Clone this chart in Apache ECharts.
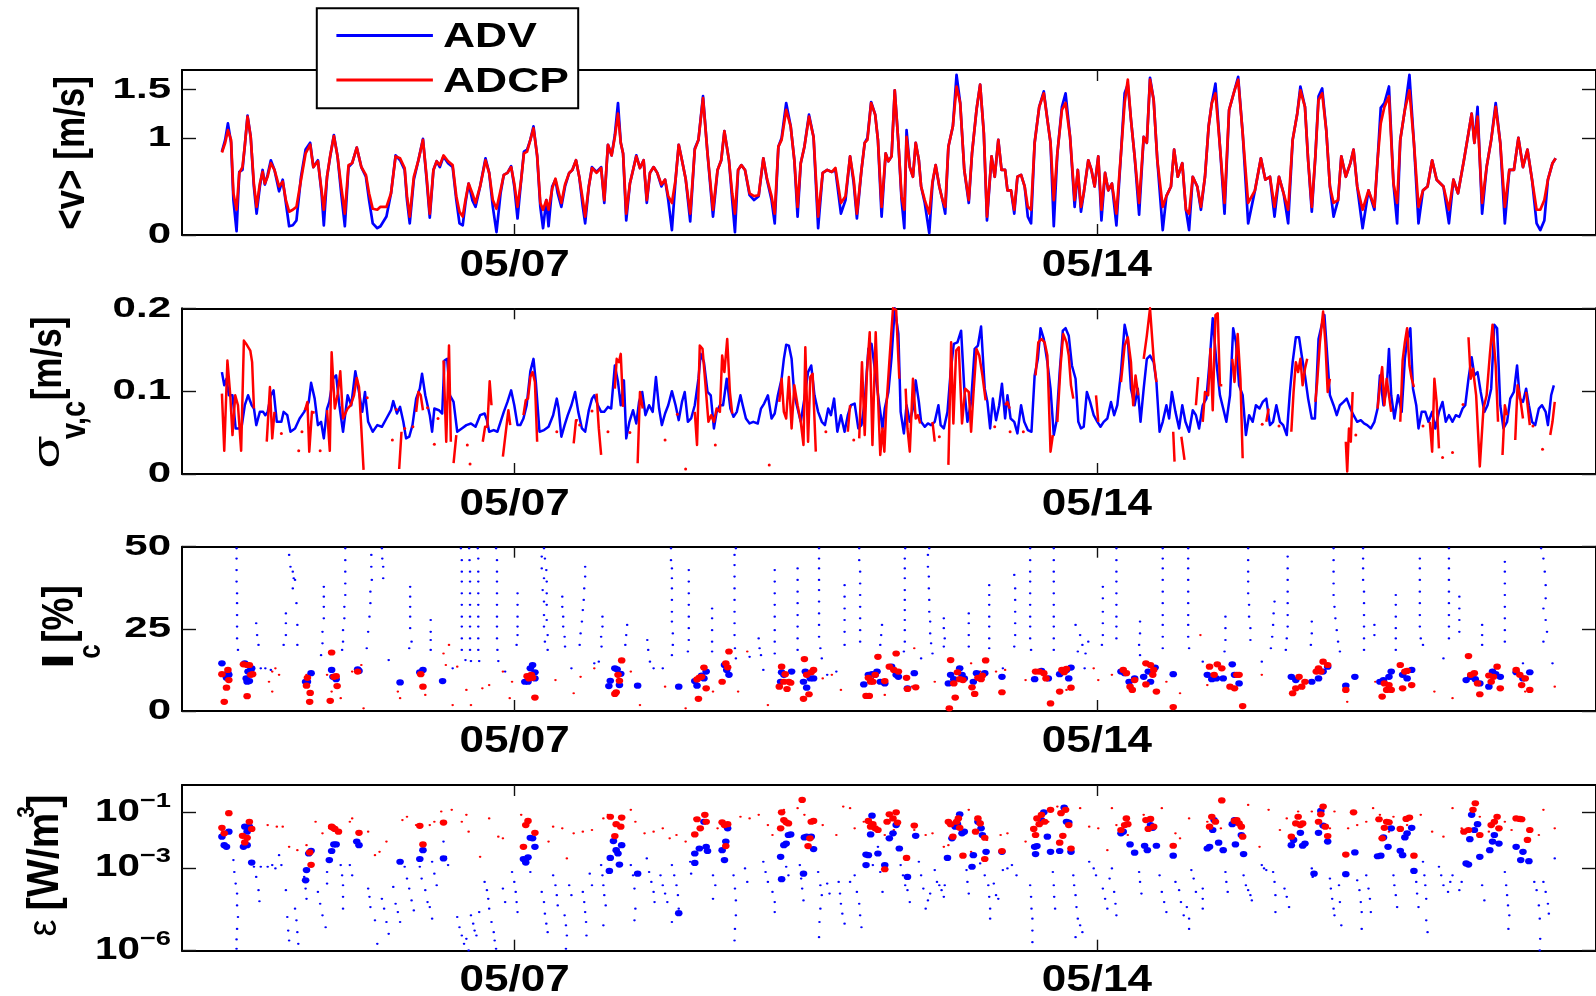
<!DOCTYPE html>
<html>
<head>
<meta charset="utf-8">
<script src="https://cdn.jsdelivr.net/npm/echarts@6/dist/echarts.min.js"></script>
<style>
  html, body { margin: 0; padding: 0; background: #fff; }
  #chart { width: 1596px; height: 996px; }
</style>
</head>
<body>
<div id="chart"></div>
<script>
// Time is in days of May (fractional). Tick marks on the time axis.
const dayTicks = [7, 14];
const dayTickText = ['05/07', '05/14'];

// ---------- Panel 1: depth-mean speed <v> [m/s] ----------
const speedDay = [
  3.480,3.519,3.552,3.590,3.618,3.656,3.689,3.727,3.754,3.788,
  3.826,3.864,3.897,3.936,3.969,3.996,4.029,4.068,4.112,4.167,
  4.211,4.249,4.288,4.332,4.376,4.431,4.486,4.541,4.579,4.634,
  4.678,4.705,4.744,4.782,4.826,4.870,4.914,4.958,5.002,5.046,
  5.101,5.156,5.211,5.249,5.293,5.348,5.386,5.458,5.513,5.568,
  5.622,5.677,5.705,5.738,5.787,5.842,5.897,5.941,5.979,6.023,
  6.062,6.100,6.144,6.199,6.254,6.298,6.336,6.375,6.408,6.446,
  6.490,6.529,6.584,6.649,6.693,6.737,6.781,6.830,6.869,6.913,
  6.957,6.995,7.034,7.078,7.111,7.149,7.188,7.226,7.270,7.308,
  7.341,7.380,7.407,7.451,7.490,7.517,7.561,7.605,7.655,7.693,
  7.737,7.776,7.819,7.847,7.891,7.929,7.984,8.039,8.077,8.121,
  8.165,8.204,8.242,8.275,8.303,8.341,8.385,8.423,8.462,8.506,
  8.550,8.588,8.626,8.670,8.714,8.764,8.808,8.846,8.890,8.934,
  8.972,9.011,9.055,9.110,9.165,9.209,9.264,9.318,9.384,9.439,
  9.483,9.521,9.576,9.615,9.648,9.686,9.725,9.769,9.824,9.878,
  9.933,9.989,10.033,10.088,10.126,10.170,10.209,10.264,10.318,10.362,
  10.401,10.439,10.483,10.538,10.593,10.648,10.703,10.758,10.813,10.856,
  10.922,10.977,11.032,11.076,11.114,11.169,11.208,11.241,11.285,11.334,
  11.367,11.411,11.460,11.493,11.531,11.569,11.613,11.651,11.684,11.711,
  11.750,11.788,11.821,11.859,11.886,11.930,11.984,12.023,12.061,12.105,
  12.143,12.176,12.214,12.268,12.312,12.356,12.405,12.459,12.498,12.552,
  12.596,12.640,12.678,12.733,12.771,12.814,12.853,12.896,12.924,12.967,
  13.006,13.044,13.088,13.131,13.169,13.208,13.251,13.306,13.361,13.404,
  13.442,13.481,13.524,13.579,13.623,13.677,13.732,13.770,13.808,13.841,
  13.896,13.934,13.972,14.016,14.054,14.098,14.136,14.180,14.234,14.289,
  14.333,14.371,14.409,14.453,14.507,14.562,14.600,14.638,14.682,14.726,
  14.791,14.835,14.890,14.928,14.972,15.026,15.070,15.108,15.152,15.206,
  15.250,15.299,15.343,15.381,15.425,15.479,15.534,15.589,15.654,15.698,
  15.752,15.818,15.900,15.971,16.025,16.080,16.135,16.189,16.244,16.299,
  16.353,16.408,16.446,16.501,16.539,16.583,16.626,16.664,16.708,16.757,
  16.801,16.845,16.899,16.938,16.992,17.047,17.085,17.129,17.194,17.265,
  17.336,17.374,17.412,17.456,17.511,17.565,17.609,17.647,17.702,17.757,
  17.811,17.866,17.920,17.975,18.030,18.084,18.166,18.232,18.286,18.341,
  18.412,18.467,18.505,18.538,18.576,18.631,18.685,18.740,18.794,18.849,
  18.904,18.958,19.013,19.067,19.122,19.176,19.231,19.286,19.330,19.379,
  19.422,19.477,19.515
];
const speedAdv = [
  .86,.98,1.15,.95,.36,.04,.65,.67,.91,1.23,
  1.01,.50,.22,.50,.67,.52,.62,.77,.67,.45,
  .57,.33,.09,.10,.15,.60,.88,.95,.70,.77,
  .43,.10,.60,.81,1.03,.81,.43,.09,.70,.74,
  .90,.70,.60,.36,.12,.07,.09,.19,.43,.82,
  .77,.67,.36,.12,.57,.77,.99,.57,.18,.67,
  .76,.70,.81,.74,.70,.36,.12,.10,.33,.53,
  .36,.29,.50,.79,.64,.29,.03,.43,.62,.64,
  .71,.50,.17,.57,.86,.88,.98,1.12,.81,.29,
  .07,.36,.09,.50,.57,.43,.29,.50,.64,.67,
  .77,.60,.29,.12,.50,.70,.65,.70,.33,.93,
  .82,1.03,1.36,.95,.84,.15,.53,.67,.82,.69,
  .77,.33,.64,.70,.64,.50,.57,.36,.05,.57,
  .93,.77,.58,.14,.89,.98,1.43,.84,.19,.67,
  .77,1.07,.77,.36,.03,.67,.72,.67,.41,.36,
  .40,.79,.57,.36,.12,.91,1.00,1.36,1.12,.77,
  .19,.74,.91,1.24,1.01,.07,.64,.67,.65,.67,
  .22,.36,.81,.53,.17,.67,.95,1.00,1.37,1.24,
  .98,.19,.84,.76,.81,1.49,.95,.36,.07,1.08,
  .70,.60,.95,.77,.50,.33,.02,.53,.72,.50,
  .36,.22,.91,1.12,1.65,1.36,.67,.33,.84,1.29,
  1.55,1.05,.15,.81,.60,.98,.67,.67,.46,.46,
  .22,.60,.62,.50,.19,.12,.95,1.32,1.48,1.19,
  .95,.09,.84,1.32,1.46,1.01,.29,.67,.24,.43,
  .77,.67,.50,.81,.15,.64,.46,.53,.10,.84,
  1.46,1.55,1.19,.81,.21,1.01,.95,1.62,1.39,.77,
  .05,.40,.50,.88,.60,.74,.26,.05,.60,.50,
  .26,.60,1.12,1.36,1.56,.91,.22,1.29,1.49,1.63,
  1.05,.12,.46,.79,.57,.60,.19,.60,.43,.12,
  .98,1.25,1.53,1.32,.77,.24,.81,1.43,1.51,1.08,
  .50,.19,.36,.81,.60,.74,.88,.50,.07,.46,
  .26,.77,1.31,1.36,1.53,.53,.12,.98,1.29,1.65,
  .95,.12,.46,.50,.77,.57,.50,.12,.57,.43,
  .77,1.05,1.25,.95,1.32,.22,.70,.98,1.36,.95,
  .12,.67,.67,1.00,.70,.88,.57,.12,.05,.15,
  .57,.74,.79
];
const speedAdcp = [
  .85,.95,1.08,.98,.43,.26,.64,.70,.91,1.22,
  1.01,.53,.29,.53,.65,.53,.60,.74,.67,.50,
  .55,.36,.24,.26,.29,.57,.84,.93,.70,.76,
  .46,.26,.60,.82,1.02,.81,.50,.22,.72,.74,
  .90,.70,.62,.43,.27,.26,.29,.29,.43,.81,
  .79,.69,.40,.19,.60,.77,.98,.60,.22,.67,
  .76,.72,.82,.76,.72,.40,.24,.19,.36,.53,
  .43,.33,.50,.77,.64,.36,.27,.46,.62,.64,
  .70,.53,.29,.57,.84,.86,.98,1.10,.82,.33,
  .26,.36,.26,.48,.58,.48,.33,.52,.64,.67,
  .77,.60,.36,.19,.50,.69,.64,.69,.36,.93,
  .82,1.01,1.25,.95,.84,.22,.53,.67,.81,.69,
  .77,.36,.64,.70,.64,.52,.57,.40,.33,.57,
  .93,.77,.58,.22,.88,.98,1.41,.84,.26,.67,
  .77,1.07,.77,.43,.22,.67,.72,.67,.43,.40,
  .41,.79,.58,.40,.22,.91,.98,1.29,1.12,.77,
  .29,.74,.91,1.22,1.01,.19,.64,.67,.65,.69,
  .33,.40,.81,.57,.22,.67,.95,.98,1.36,1.24,
  .98,.29,.84,.76,.81,1.49,.95,.40,.26,1.01,
  .70,.60,.95,.77,.50,.36,.22,.55,.72,.50,
  .36,.29,.91,1.12,1.53,1.36,.67,.36,.84,1.29,
  1.55,1.05,.19,.81,.60,.98,.67,.67,.46,.46,
  .26,.60,.62,.50,.29,.26,.95,1.32,1.46,1.19,
  .95,.36,.84,1.29,1.36,1.01,.36,.67,.29,.43,
  .77,.67,.50,.81,.26,.64,.46,.53,.22,.84,
  1.36,1.60,1.19,.81,.33,1.01,.95,1.60,1.39,.77,
  .29,.40,.50,.88,.60,.74,.26,.22,.60,.50,
  .29,.60,1.12,1.36,1.46,.91,.33,1.29,1.49,1.60,
  1.05,.33,.46,.79,.57,.60,.29,.60,.43,.26,
  .98,1.25,1.49,1.32,.77,.29,.81,1.39,1.46,1.08,
  .50,.33,.36,.81,.60,.74,.88,.50,.26,.46,
  .29,.77,1.15,1.32,1.43,.53,.33,.98,1.29,1.49,
  .95,.29,.46,.50,.77,.57,.50,.26,.57,.43,
  .77,1.05,1.25,.95,1.22,.33,.70,.98,1.32,.95,
  .29,.67,.67,1.00,.70,.88,.57,.26,.26,.36,
  .57,.74,.79
];

// ---------- Panel 2: velocity standard deviation sigma_v,c [m/s] ----------
const sigmaAdv = [
  [3.480,.123],[3.508,.107],[3.535,.115],[3.563,.095],[3.607,.095],[3.645,.055],[3.684,.055],[3.717,.057],[3.755,.083],[3.794,.095],
  [3.838,.083],[3.865,.079],[3.893,.059],[3.936,.075],[3.975,.075],[4.002,.071],[4.030,.075],[4.068,.095],[4.101,.101],[4.140,.063],
  [4.195,.063],[4.222,.075],[4.266,.071],[4.304,.051],[4.359,.055],[4.414,.067],[4.469,.075],[4.524,.087],[4.552,.110],[4.595,.091],
  [4.634,.059],[4.672,.063],[4.705,.043],[4.744,.079],[4.771,.087],[4.815,.115],[4.853,.119],[4.892,.083],[4.936,.051],[4.991,.095],
  [5.035,.083],[5.084,.124],[5.128,.099],[5.167,.075],[5.200,.099],[5.238,.063],[5.293,.051],[5.348,.059],[5.403,.057],[5.458,.067],
  [5.513,.077],[5.540,.088],[5.584,.073],[5.622,.081],[5.661,.063],[5.694,.043],[5.732,.045],[5.771,.059],[5.815,.091],[5.859,.103],
  [5.886,.121],[5.925,.095],[5.952,.083],[5.979,.071],[6.007,.051],[6.034,.079],[6.089,.077],[6.128,.073],[6.155,.137],[6.188,.139],
  [6.221,.095],[6.265,.087],[6.309,.051],[6.364,.055],[6.419,.059],[6.474,.061],[6.529,.057],[6.584,.071],[6.638,.073],[6.666,.065],
  [6.693,.051],[6.748,.053],[6.792,.051],[6.830,.063],[6.869,.075],[6.913,.087],[6.957,.101],[6.995,.083],[7.034,.059],[7.067,.059],
  [7.105,.067],[7.144,.083],[7.188,.124],[7.226,.139],[7.254,.111],[7.298,.051],[7.353,.053],[7.407,.057],[7.462,.071],[7.506,.091],
  [7.528,.079],[7.561,.045],[7.600,.059],[7.638,.071],[7.682,.083],[7.726,.099],[7.764,.075],[7.808,.055],[7.847,.051],[7.891,.077],
  [7.929,.091],[7.957,.095],[8.000,.083],[8.039,.075],[8.077,.075],[8.121,.081],[8.160,.079],[8.204,.131],[8.242,.111],[8.275,.083],
  [8.313,.113],[8.341,.043],[8.379,.063],[8.423,.077],[8.462,.061],[8.495,.087],[8.533,.099],[8.572,.071],[8.616,.083],[8.659,.075],
  [8.698,.117],[8.736,.079],[8.769,.059],[8.808,.073],[8.846,.083],[8.890,.100],[8.934,.083],[8.972,.065],[9.011,.087],[9.044,.099],
  [9.082,.063],[9.121,.067],[9.165,.083],[9.209,.115],[9.236,.145],[9.275,.135],[9.318,.099],[9.357,.095],[9.395,.055],[9.428,.075],
  [9.467,.083],[9.505,.083],[9.549,.115],[9.593,.079],[9.631,.069],[9.670,.075],[9.714,.095],[9.741,.083],[9.780,.067],[9.824,.061],
  [9.868,.063],[9.922,.061],[9.961,.079],[9.999,.085],[10.044,.095],[10.088,.067],[10.126,.073],[10.164,.095],[10.209,.115],[10.236,.139],
  [10.264,.156],[10.296,.155],[10.329,.139],[10.362,.095],[10.401,.079],[10.439,.063],[10.483,.091],[10.527,.123],[10.565,.131],[10.604,.095],
  [10.648,.075],[10.692,.063],[10.730,.059],[10.769,.079],[10.802,.071],[10.840,.091],[10.879,.051],[10.922,.071],[10.966,.051],[11.005,.071],
  [11.043,.083],[11.087,.085],[11.131,.055],[11.169,.059],[11.208,.087],[11.252,.151],[11.290,.157],[11.334,.123],[11.384,.083],[11.422,.055],
  [11.449,.079],[11.493,.099],[11.531,.141],[11.569,.200],[11.613,.169],[11.640,.075],[11.679,.049],[11.711,.083],[11.750,.063],[11.788,.079],
  [11.821,.113],[11.859,.087],[11.886,.063],[11.930,.057],[11.968,.061],[12.006,.059],[12.050,.063],[12.094,.083],[12.121,.059],[12.159,.055],
  [12.203,.075],[12.241,.123],[12.279,.157],[12.323,.159],[12.367,.173],[12.405,.103],[12.443,.063],[12.487,.087],[12.530,.151],[12.569,.155],
  [12.607,.178],[12.651,.103],[12.683,.087],[12.716,.055],[12.749,.091],[12.787,.065],[12.825,.083],[12.858,.109],[12.896,.067],[12.924,.095],
  [12.962,.067],[13.006,.063],[13.044,.049],[13.088,.083],[13.126,.063],[13.169,.053],[13.213,.051],[13.251,.119],[13.290,.139],[13.322,.176],
  [13.361,.163],[13.404,.135],[13.442,.103],[13.481,.047],[13.513,.063],[13.552,.123],[13.590,.173],[13.623,.176],[13.661,.167],[13.699,.131],
  [13.743,.115],[13.776,.063],[13.808,.055],[13.841,.057],[13.879,.099],[13.918,.087],[13.961,.071],[14.005,.063],[14.043,.057],[14.081,.063],
  [14.125,.067],[14.169,.087],[14.207,.071],[14.245,.083],[14.289,.123],[14.333,.180],[14.371,.163],[14.409,.103],[14.453,.083],[14.491,.103],
  [14.524,.063],[14.562,.103],[14.600,.139],[14.638,.143],[14.682,.135],[14.715,.111],[14.753,.051],[14.791,.063],[14.835,.083],[14.868,.067],
  [14.901,.099],[14.944,.075],[14.988,.055],[15.026,.083],[15.064,.063],[15.108,.051],[15.152,.077],[15.190,.071],[15.228,.055],[15.272,.083],
  [15.316,.091],[15.354,.135],[15.392,.188],[15.436,.135],[15.479,.095],[15.518,.079],[15.556,.063],[15.600,.095],[15.638,.176],[15.671,.159],
  [15.709,.107],[15.752,.095],[15.791,.047],[15.829,.071],[15.873,.063],[15.911,.083],[15.955,.079],[15.993,.087],[16.036,.091],[16.080,.059],
  [16.118,.063],[16.157,.083],[16.200,.063],[16.239,.059],[16.282,.047],[16.320,.099],[16.353,.135],[16.391,.165],[16.430,.165],[16.462,.143],
  [16.501,.119],[16.539,.091],[16.583,.067],[16.621,.067],[16.664,.163],[16.703,.180],[16.735,.192],[16.774,.135],[16.801,.095],[16.845,.083],
  [16.883,.071],[16.921,.083],[16.965,.087],[17.003,.091],[17.047,.079],[17.085,.071],[17.129,.063],[17.172,.065],[17.211,.061],[17.249,.059],
  [17.293,.055],[17.336,.063],[17.374,.079],[17.402,.119],[17.445,.083],[17.483,.103],[17.511,.151],[17.538,.095],[17.576,.067],[17.620,.095],
  [17.664,.075],[17.702,.139],[17.729,.161],[17.768,.176],[17.800,.103],[17.839,.083],[17.866,.055],[17.904,.075],[17.948,.075],[17.986,.063],
  [18.030,.075],[18.068,.055],[18.112,.075],[18.155,.087],[18.194,.063],[18.232,.071],[18.275,.063],[18.314,.071],[18.357,.069],[18.396,.079],
  [18.428,.083],[18.467,.115],[18.505,.141],[18.538,.119],[18.576,.123],[18.614,.099],[18.658,.075],[18.696,.083],[18.740,.103],[18.778,.180],
  [18.811,.176],[18.849,.083],[18.887,.055],[18.931,.063],[18.969,.091],[19.013,.099],[19.051,.131],[19.084,.091],[19.122,.087],[19.160,.103],
  [19.193,.083],[19.231,.063],[19.269,.059],[19.313,.079],[19.351,.083],[19.395,.075],[19.422,.059],[19.461,.095],[19.493,.107]
];
// ADCP record has gaps (null separates the continuous stretches)
const sigmaAdcp = [
  [3.480,.097],[3.508,.028],[3.546,.137],[3.579,.097],[3.607,.047],[3.640,.095],[3.673,.083],[3.711,.028],[3.744,.161],[3.772,.157],[3.794,.159],[3.821,.149],[3.843,.135],[3.865,.079], null,
  [4.019,.039],[4.057,.105],[4.085,.043],[4.112,.075], null,
  [4.480,.077],[4.508,.087],[4.530,.027],[4.562,.075],[4.595,.074], null,
  [4.744,.077],[4.777,.028],[4.799,.147],[4.837,.079],[4.870,.095],[4.903,.124],[4.936,.067],[4.991,.079],[5.029,.083],[5.068,.095],[5.101,.116],[5.128,.105],[5.156,.055],[5.183,.005], null,
  [5.611,.006],[5.639,.051], null,
  [5.815,.075],[5.842,.099],[5.870,.095],[5.897,.077], null,
  [6.144,.137],[6.177,.039],[6.210,.155],[6.232,.039], null,
  [6.265,.013],[6.298,.047], null,
  [6.616,.039],[6.644,.057],[6.671,.057],[6.699,.112],[6.721,.083], null,
  [6.858,.021],[6.924,.077],[6.946,.059], null,
  [7.105,.071],[7.133,.089],[7.160,.091],[7.188,.117],[7.215,.123],[7.243,.111],[7.270,.039], null,
  [7.709,.037],[7.737,.065],[7.759,.065], null,
  [7.984,.097],[8.011,.055],[8.039,.023], null,
  [8.204,.103],[8.226,.139],[8.253,.135],[8.275,.145],[8.303,.081], null,
  [8.478,.013],[8.506,.099],[8.539,.079], null,
  [9.165,.075],[9.192,.035],[9.225,.155],[9.258,.151],[9.291,.111],[9.329,.063],[9.362,.071],[9.395,.063],[9.428,.079],[9.467,.075],[9.494,.143],[9.521,.123],[9.555,.163],[9.587,.099],[9.615,.073], null,
  [10.181,.087],[10.209,.115],[10.236,.075],[10.264,.067],[10.296,.117],[10.329,.055],[10.362,.107],[10.401,.083],[10.439,.063],[10.472,.035],[10.494,.153],[10.527,.039],[10.554,.117],[10.582,.121],[10.620,.027], null,
  [11.005,.051],[11.032,.083], null,
  [11.142,.043],[11.175,.135],[11.208,.047],[11.235,.123],[11.268,.171],[11.301,.035],[11.340,.171],[11.367,.095],[11.395,.023],[11.422,.055],[11.444,.027],[11.466,.077],[11.504,.135],[11.548,.200],[11.586,.198],[11.624,.115], null,
  [11.700,.103],[11.722,.055],[11.750,.027],[11.788,.115],[11.821,.067],[11.848,.071],[11.875,.061], null,
  [12.023,.063],[12.050,.039], null,
  [12.214,.011],[12.247,.159],[12.274,.061],[12.307,.149],[12.339,.153],[12.378,.061],[12.416,.103],[12.459,.099],[12.487,.051],[12.514,.095],[12.552,.151],[12.585,.143],[12.623,.119],[12.662,.089], null,
  [12.896,.083],[12.924,.087],[12.951,.079], null,
  [13.262,.119],[13.295,.159],[13.333,.163],[13.371,.159],[13.404,.143],[13.442,.027],[13.470,.047], null,
  [13.524,.063],[13.563,.131],[13.595,.169],[13.634,.159],[13.661,.143],[13.688,.107],[13.716,.091], null,
  [13.989,.095],[14.016,.063], null,
  [14.289,.111],[14.333,.155],[14.371,.165],[14.409,.135],[14.436,.083],[14.464,.119],[14.496,.095], null,
  [14.562,.139],[14.600,.167],[14.638,.200],[14.682,.139],[14.715,.111], null,
  [14.917,.051],[14.933,.015], null,
  [15.015,.045],[15.053,.017], null,
  [15.190,.083],[15.217,.117], null,
  [15.272,.063],[15.299,.099],[15.337,.095],[15.365,.151],[15.392,.077],[15.425,.192],[15.452,.194],[15.479,.107],[15.507,.107], null,
  [15.627,.139],[15.654,.111],[15.692,.169],[15.725,.115],[15.752,.019], null,
  [16.036,.063],[16.064,.079], null,
  [16.337,.051],[16.364,.099],[16.391,.135],[16.419,.123],[16.446,.139],[16.473,.107],[16.501,.127],[16.528,.139], null,
  [16.626,.087],[16.648,.111],[16.681,.159],[16.719,.196],[16.746,.159],[16.774,.099],[16.801,.115], null,
  [16.992,.039],[17.009,.003],[17.030,.055],[17.052,.039],[17.074,.099], null,
  [17.374,.079],[17.402,.107],[17.429,.129],[17.456,.083],[17.483,.115],[17.511,.095],[17.538,.075], null,
  [17.647,.063],[17.675,.137],[17.702,.159],[17.729,.176],[17.757,.131],[17.784,.115],[17.811,.105], null,
  [18.002,.063],[18.030,.027],[18.057,.115],[18.084,.087],[18.112,.031], null,
  [18.467,.165],[18.494,.115],[18.521,.127],[18.559,.095],[18.603,.009],[18.647,.079],[18.685,.095],[18.723,.143],[18.756,.180],[18.794,.131],[18.822,.063], null,
  [18.876,.023],[18.904,.083],[18.931,.071], null,
  [19.029,.041],[19.057,.107],[19.084,.095],[19.122,.067], null,
  [19.160,.099],[19.204,.059], null,
  [19.450,.047],[19.477,.063],[19.504,.087]
];
// isolated ADCP samples between gaps
const sigmaAdcpIsolated = [
  [4.195,.049],[4.403,.028],[4.442,.051],[4.661,.028],[5.227,.092],[5.529,.041],[5.578,.078],[5.677,.055],[5.776,.057],[5.952,.080],
  [6.034,.036],[6.078,.067],[6.430,.035],[6.463,.012],[7.506,.051],[7.781,.059],[7.929,.076],[8.121,.051],[8.385,.050],[8.808,.041],
  [8.956,.072],[9.055,.006],[9.412,.035],[10.060,.011],[10.741,.051],[11.076,.041],[12.105,.045],[12.771,.057],[12.956,.051],[13.115,.051],
  [15.987,.060],[16.189,.058],[17.112,.047],[17.920,.058],[18.155,.020],[18.275,.026],[18.401,.084],[19.242,.058],[19.357,.030]
];

// ---------- Panel 3: turbulence intensity I_c [%] ----------
const icAdvAll = [
  [3.656,49.5],[3.656,46.4],[3.656,42.9],[3.656,39.4],[3.662,35.8],[3.662,32.8],[3.662,29.2],[3.662,25.7],[3.662,22.1],[3.673,18.6],
  [3.892,26.7],[3.903,23.1],[3.920,20.1],[3.947,13.0],[4.002,13.0],[4.068,12.5],
  [4.288,47.5],[4.304,43.9],[4.332,42.4],[4.343,40.4],[4.359,39.9],[4.332,37.3],[4.376,32.8],[4.249,29.7],[4.249,26.7],[4.387,26.2],[4.222,20.1],[4.387,20.1],[4.249,23.1],
  [4.705,37.8],[4.705,34.8],[4.705,31.7],[4.705,28.2],[4.689,24.1],[4.689,20.6],[4.672,17.0],
  [4.963,49.5],[4.963,45.9],[4.963,42.4],[4.963,38.8],[4.963,35.3],[4.952,31.7],[4.952,28.2],[4.936,24.6],[4.936,21.1],[4.925,18.6],
  [5.276,47.5],[5.276,43.9],[5.282,39.9],[5.265,36.3],[5.265,32.8],[5.254,28.7],[5.238,24.1],[5.221,19.1],
  [5.403,49.5],[5.408,46.4],[5.419,43.9],[5.419,40.4],
  [5.743,37.8],[5.743,34.8],[5.743,31.7],[5.743,28.7],[5.743,25.2],[5.760,21.1],[5.732,19.1],
  [5.990,27.7],[5.990,24.1],[5.990,21.6],[5.990,18.6],
  [6.353,49.5],[6.364,45.9],[6.364,42.4],[6.364,39.4],[6.364,35.8],[6.364,32.3],[6.364,28.7],[6.364,25.7],[6.364,22.1],[6.364,18.6],[6.408,15.5],
  [6.452,49.5],[6.457,45.9],[6.463,42.4],[6.463,39.4],[6.463,35.8],[6.463,32.3],[6.463,28.7],[6.463,25.7],[6.463,22.1],[6.463,18.6],[6.474,15.2],
  [6.556,49.5],[6.562,46.4],[6.562,42.4],[6.562,39.4],[6.562,35.8],[6.562,32.3],[6.562,28.7],[6.562,25.7],[6.562,22.1],[6.562,18.6],[6.573,15.2],
  [6.776,49.5],[6.787,45.9],[6.787,42.4],[6.787,39.4],[6.787,35.8],[6.787,32.3],[6.787,28.7],[6.787,25.7],[6.787,22.1],[6.792,18.6],[6.803,15.2],
  [7.034,35.8],[7.034,32.3],[7.034,28.7],[7.034,25.7],[7.034,23.1],[7.023,20.1],
  [7.352,49.5],[7.325,47.0],[7.363,46.4],[7.325,43.4],[7.380,42.9],[7.352,40.4],[7.385,39.4],[7.336,36.8],[7.385,35.8],[7.352,33.3],
  [7.385,32.3],[7.352,29.2],[7.385,27.7],[7.352,25.7],[7.396,23.1],[7.363,21.1],[7.396,18.6],
  [7.572,34.8],[7.572,31.7],[7.583,28.7],[7.583,25.7],[7.600,22.6],[7.605,19.6],
  [7.847,43.9],[7.847,40.9],[7.836,37.3],[7.830,33.8],[7.819,30.7],[7.808,27.2],[7.792,23.6],[7.781,20.1],
  [8.055,28.7],[8.055,25.7],[8.039,22.6],[8.044,19.6],[8.011,15.0],
  [8.352,26.2],[8.341,23.1],[8.330,20.1],[8.594,21.6],[8.605,18.6],[8.626,15.0],
  [8.879,49.5],[8.879,45.9],[8.890,43.4],[8.890,40.4],[8.890,37.3],[8.890,33.8],[8.890,30.2],[8.890,27.2],[8.901,23.6],[8.901,20.1],[8.890,17.0],
  [9.093,42.9],[9.093,39.4],[9.093,35.8],[9.093,32.3],[9.093,28.7],[9.093,25.2],[9.093,21.6],[9.082,18.1],
  [9.373,31.2],[9.373,28.2],[9.373,24.6],[9.373,21.1],[9.373,18.1],
  [9.659,49.5],[9.643,47.5],[9.643,44.4],[9.643,40.9],[9.643,37.3],[9.643,33.8],[9.643,30.2],[9.643,26.7],[9.643,23.1],[9.648,19.1],[9.659,16.0],
  [9.933,22.1],[9.944,19.1],[9.961,17.0],
  [10.126,42.9],[10.126,39.4],[10.126,35.8],[10.126,32.3],[10.126,28.7],[10.126,24.6],[10.126,21.1],[10.126,17.5],
  [10.401,43.4],[10.401,39.9],[10.401,36.3],[10.401,32.8],[10.401,29.2],[10.401,25.7],[10.401,22.1],[10.401,18.6],
  [10.659,49.5],[10.659,46.4],[10.659,43.4],[10.659,39.9],[10.659,36.8],[10.659,33.3],[10.659,29.7],[10.659,26.2],[10.659,22.6],[10.675,19.1],[10.692,16.0],
  [10.966,38.3],[10.966,34.8],[10.966,31.2],[10.966,27.7],[10.966,24.1],[10.966,20.1],
  [11.142,49.5],[11.142,45.9],[11.153,42.4],[11.153,38.8],[11.153,35.3],[11.153,31.7],[11.153,28.2],[11.153,24.6],[11.153,21.1],
  [5.485,15.5],[6.254,13.0],[6.885,12.0],[7.682,13.0],[7.957,14.5],[8.670,13.0],[8.780,13.0],[9.824,16.5],[9.989,12.5],[10.757,11.0],[10.867,12.0],
  [11.416,26.2],[11.406,23.1],[11.395,20.1],[11.384,17.0],
  [11.695,49.5],[11.690,46.4],[11.690,43.4],[11.690,40.4],[11.690,36.8],[11.690,33.8],[11.690,30.7],[11.690,27.7],[11.690,24.6],[11.690,21.1],[11.679,18.1],
  [11.984,49.5],[11.968,47.5],[11.968,43.9],[11.979,40.9],[11.979,37.3],[11.984,33.8],[11.984,30.2],[11.995,27.2],[11.995,23.6],[12.006,20.6],[12.023,17.5],
  [12.159,28.2],[12.159,25.2],[12.170,22.1],[12.159,19.6],
  [12.459,29.7],[12.459,26.7],[12.459,23.1],[12.459,19.6],
  [12.705,38.3],[12.705,35.3],[12.705,32.3],[12.705,28.7],[12.705,25.7],[12.705,22.1],[12.705,19.1],
  [13.006,41.4],[13.017,37.3],[13.017,33.8],[13.017,30.2],[13.017,26.7],[13.017,23.1],[13.006,19.6],
  [13.197,49.5],[13.197,45.9],[13.197,42.4],[13.197,39.4],[13.197,35.8],[13.197,32.3],[13.197,28.7],[13.197,25.7],[13.197,22.1],[13.208,18.6],
  [13.481,49.5],[13.481,45.9],[13.481,42.4],[13.481,39.4],[13.481,35.8],[13.481,32.3],[13.481,28.7],[13.481,25.7],[13.481,22.1],[13.481,18.6],
  [13.743,26.2],[13.798,23.1],[13.825,20.1],[13.863,17.5],[13.770,18.1],[13.896,21.1],
  [14.071,37.8],[14.071,34.3],[14.071,30.2],[14.071,26.7],[14.071,23.1],[14.060,20.1],
  [14.234,49.5],[14.234,45.9],[14.234,42.4],[14.234,39.4],[14.234,35.8],[14.234,32.3],[14.234,28.7],[14.234,25.7],[14.234,22.1],
  [14.518,27.2],[14.518,23.6],[14.507,20.1],[14.518,17.0],
  [14.791,49.5],[14.791,46.4],[14.791,43.4],[14.791,39.9],[14.791,36.3],[14.791,32.8],[14.791,29.2],[14.791,26.2],[14.791,22.6],[14.791,19.1],
  [15.097,49.5],[15.097,46.4],[15.097,43.4],[15.097,39.9],[15.097,36.3],[15.097,32.8],[15.097,29.2],[15.097,26.2],[15.097,22.6],[15.108,19.1],
  [15.545,28.7],[15.545,25.2],[15.545,21.6],[15.534,18.1],
  [15.818,49.5],[15.818,45.9],[15.818,42.4],[15.818,39.4],[15.818,35.8],[15.829,32.3],[15.829,28.7],[15.845,25.2],[15.845,21.6],
  [16.135,33.3],[16.124,29.7],[16.118,26.2],[16.107,22.6],[16.091,19.1],
  [16.293,47.0],[16.293,43.4],[16.293,39.9],[16.293,36.3],[16.293,32.8],[16.293,29.2],[16.293,25.7],[16.282,22.1],[16.271,18.6],
  [16.583,27.2],[16.583,23.6],[16.572,20.1],
  [16.845,49.5],[16.845,45.9],[16.845,42.4],[16.845,38.8],[16.845,35.3],[16.856,31.7],[16.867,28.2],[16.883,24.6],[16.899,21.1],[16.921,18.1],
  [17.200,49.5],[17.200,46.4],[17.200,43.4],[17.200,39.9],[17.211,36.3],[17.211,32.8],[17.211,29.2],[17.211,25.7],[17.211,22.1],[17.211,18.6],
  [17.336,26.2],[17.336,23.1],
  [17.593,35.3],[17.593,32.3],[17.593,28.7],[17.593,25.2],[17.593,22.1],[17.593,18.6],
  [17.882,46.4],[17.882,43.4],[17.882,39.9],[17.882,36.3],[17.882,32.8],[17.882,29.2],[17.882,25.7],[17.893,22.1],[17.920,20.1],
  [18.232,49.5],[18.232,46.4],[18.232,43.4],[18.232,39.9],[18.232,36.3],[18.232,32.8],[18.232,29.2],[18.232,25.7],[18.232,22.1],
  [18.357,34.8],[18.357,31.2],[18.357,27.7],[18.357,24.1],
  [18.631,26.2],[18.631,23.1],[18.631,20.1],
  [18.904,45.4],[18.904,42.4],[18.904,38.8],[18.904,35.3],[18.904,31.7],[18.904,28.2],[18.904,24.6],[18.904,21.1],
  [19.340,49.5],[19.368,46.4],[19.384,42.4],[19.395,38.3],[19.395,34.3],[19.368,31.2],[19.395,27.7],[19.411,24.1],[19.368,21.1],[19.477,14.5],
  [11.886,16.0],[12.869,13.0],[13.852,13.0],[15.272,15.0],[15.982,15.0],[18.166,16.0],[19.122,14.5]
];
const icAdcpAll = [
  [4.085,12.0],[4.046,8.9],[4.123,13.0],[4.167,11.0],[4.085,5.9],[4.497,11.0],[4.552,4.9],[4.744,11.0],[4.799,5.9],[4.908,3.9],
  [5.046,12.0],[5.156,14.0],[5.183,0.8],[5.595,5.9],[5.622,3.9],[5.925,4.9],[6.144,17.5],[6.172,14.0],[6.210,20.1],[6.254,1.8],
  [6.309,13.5],[6.419,6.4],[6.474,1.8],[6.611,6.9],[6.693,7.9],[6.858,12.0],[6.940,3.9],[6.968,8.9],[7.490,9.4],[7.709,5.4],
  [7.792,10.4],[7.957,13.0],[8.396,12.0],[8.506,1.8],[8.808,7.4],[9.055,0.8],[9.384,5.9],[9.686,5.9],[9.796,18.1],[10.044,1.8],
  [10.703,9.9],[10.813,11.0],[10.922,6.4],[11.306,9.9],
  [11.449,4.9],[11.804,19.1],[11.777,7.4],[12.050,8.9],[12.487,14.5],[12.596,12.0],[12.787,12.0],[12.896,12.5],[13.142,9.4],[13.415,2.3],
  [13.634,6.4],[13.961,13.0],[14.016,9.4],[14.180,11.0],[14.835,8.9],[14.999,5.4],[15.244,23.1],[15.327,7.9],[15.982,11.0],[16.473,6.9],
  [17.009,2.8],[17.347,8.9],[18.057,5.9],[18.275,3.9],[19.149,5.9],[19.504,7.4]
];
const icAdvSel = [
  [3.480,14.5],[3.519,11.0],[3.552,11.5],[3.535,10.1],[3.563,11.0],[3.755,14.5],[3.772,9.9],[3.794,12.0],[3.810,9.1],[3.783,8.9],
  [3.827,12.5],[3.838,13.0],[4.486,8.9],[4.508,8.9],[4.552,11.5],[4.799,12.5],[4.815,10.4],[4.853,9.7],[5.112,12.7],[5.128,12.2],
  [5.622,8.7],[5.859,11.8],[5.897,12.5],[6.133,9.1],[7.122,8.9],[7.160,8.9],[7.188,13.0],[7.215,14.0],[7.243,9.9],[7.243,11.8],
  [8.204,13.0],[8.231,12.7],[8.149,9.2],[8.132,7.6],[8.259,7.9],[8.275,11.3],[8.478,7.7],[8.972,7.4],[9.165,9.1],[9.192,7.7],
  [9.247,10.8],[9.302,12.0],[9.275,9.9],[9.549,12.5],[9.576,11.0],[9.522,14.0],[10.197,8.9],[10.209,11.8],[10.236,11.0],[10.329,12.0],
  [10.472,8.9],[10.494,12.0],[10.510,7.1],[10.554,9.9],[10.593,9.9],[11.197,8.1],[11.252,11.0],[11.296,11.2],[11.334,11.0],
  [11.356,12.0],[11.395,8.9],[11.449,8.4],[11.531,13.5],[11.586,11.0],[11.613,10.4],[11.722,6.9],[11.804,11.5],[12.214,8.4],[12.241,11.0],
  [12.279,9.7],[12.350,13.0],[12.378,11.0],[12.405,9.9],[12.514,8.9],[12.552,11.5],[12.651,11.5],[12.858,10.4],[13.251,9.7],[13.333,12.2],
  [13.415,9.9],[13.552,11.2],[13.634,12.5],[13.661,9.9],[13.688,13.2],[14.289,12.0],[14.333,11.5],[14.387,8.9],[14.453,9.9],[14.562,10.4],
  [14.617,12.0],[14.644,8.9],[14.699,13.2],[14.917,11.2],[15.327,11.0],[15.381,9.7],[15.436,9.9],[15.518,9.9],[15.627,14.2],[15.654,11.0],
  [15.709,8.4],[16.337,10.4],[16.391,9.4],[16.583,8.9],[16.664,9.9],[16.719,12.0],[16.774,13.5],[16.992,7.7],[17.101,10.4],[17.402,8.9],
  [17.445,9.4],[17.511,10.4],[17.538,12.0],[17.675,11.0],[17.729,9.9],[17.784,12.5],[18.439,9.4],[18.494,10.4],[18.548,9.7],[18.603,8.4],
  [18.712,7.4],[18.756,12.0],[18.794,11.2],[18.849,10.4],[19.040,11.8],[19.122,9.9],[19.204,11.8]
];
const icAdcpSel = [
  [3.480,11.2],[3.508,2.8],[3.535,7.1],[3.552,12.5],[3.563,9.4],[3.739,14.2],[3.783,14.0],[3.810,14.0],[3.827,11.0],[3.849,11.2],
  [3.783,4.5],[4.497,7.7],[4.508,10.1],[4.541,5.5],[4.535,2.8],[4.782,3.1],[4.799,17.8],[4.826,10.4],[4.853,10.6],[4.865,7.6],
  [5.112,12.0],[5.870,11.2],[5.897,7.4],[7.149,10.6],[7.171,9.9],[7.199,11.0],[7.215,10.1],[7.243,4.1],[8.204,5.2],[8.220,5.7],
  [8.242,11.0],[8.259,9.2],[8.286,15.4],[9.192,9.6],[9.220,10.2],[9.247,10.4],[9.275,13.2],[9.209,3.7],[9.302,6.9],[9.494,8.9],
  [9.538,14.5],[9.560,13.3],[9.576,18.1],[10.181,7.4],[10.209,13.5],[10.236,8.9],[10.252,11.2],[10.274,6.7],[10.296,8.9],[10.318,8.6],
  [10.483,15.8],[10.510,11.0],[10.538,5.1],[10.565,11.8],[10.593,12.5],[10.472,3.7],[11.252,10.1],[11.279,8.9],[11.306,8.9],[11.334,11.0],
  [11.224,4.6],[11.263,4.6],
  [11.367,16.5],[11.449,9.1],[11.504,13.5],[11.558,12.5],[11.586,17.5],[11.613,12.0],[11.711,10.1],[11.722,6.7],[11.821,7.2],[12.241,15.5],
  [12.279,8.4],[12.296,4.1],[12.225,0.8],[12.323,11.8],[12.350,9.7],[12.389,9.4],[12.498,7.2],[12.530,5.2],[12.569,10.1],[12.607,9.7],
  [12.623,10.8],[12.662,15.4],[12.858,5.7],[13.262,12.0],[13.306,12.0],[13.361,11.5],[13.388,9.9],[13.442,2.3],[13.552,5.9],[13.579,12.5],
  [13.606,11.8],[13.634,12.8],[13.688,7.1],[14.316,12.5],[14.354,11.5],[14.398,7.4],[14.425,6.4],[14.453,9.4],[14.589,14.5],[14.644,14.0],
  [14.682,12.5],[14.671,11.0],[14.715,5.9],[14.589,8.1],[14.917,1.2],[15.354,13.5],[15.409,11.0],[15.447,14.2],[15.501,13.0],[15.600,7.4],
  [15.654,6.9],[15.682,11.0],[15.709,11.0],[15.752,1.5],[16.353,5.4],[16.391,6.9],[16.430,10.4],[16.462,7.4],[16.501,8.9],[16.637,12.0],
  [16.664,13.0],[16.692,12.0],[16.719,15.0],[16.774,14.0],[16.992,6.4],[17.429,4.4],[17.456,8.4],[17.483,6.4],[17.511,7.9],[17.538,6.4],
  [17.647,14.0],[17.675,6.9],[17.702,12.0],[17.729,12.2],[17.784,7.9],[18.467,16.7],[18.494,11.0],[18.537,11.5],[18.576,8.4],[18.603,5.1],
  [18.712,10.8],[18.740,8.9],[18.767,10.4],[18.811,13.5],[18.849,6.9],[19.040,12.5],[19.084,11.0],[19.106,7.9],[19.149,9.9],[19.204,6.4]
];

// ---------- Panel 4: dissipation rate, stored as log10(epsilon [W/m^3]) ----------
const epsAdvAllLog = [
  [3.618,-2.72],[3.629,-3.15],[3.645,-3.57],[3.662,-3.93],[3.662,-4.36],[3.673,-4.78],[3.662,-5.21],[3.656,-5.59],[3.656,-5.93],
  [3.865,-2.96],[3.892,-3.33],[3.920,-3.81],[3.931,-4.21],[3.947,-2.96],[4.030,-2.96],[4.085,-2.90],[4.123,-3.02],[4.167,-2.54],[4.195,-2.90],
  [4.249,-3.81],[4.266,-4.78],[4.277,-5.27],[4.288,-5.63],[4.359,-4.48],[4.376,-4.90],[4.387,-5.33],[4.398,-5.75],
  [4.469,-3.33],[4.486,-3.75],[4.497,-4.12],[4.634,-3.87],[4.661,-4.30],[4.689,-4.72],[4.744,-3.15],[4.744,-3.57],[4.727,-5.15],
  [4.908,-2.90],[4.925,-3.27],[4.936,-3.63],[4.936,-4.05],[4.936,-4.48],[5.018,-2.90],[5.046,-3.27],
  [5.238,-3.75],[5.254,-4.05],[5.265,-4.42],[5.320,-4.90],[5.348,-5.75],[5.403,-4.12],[5.430,-4.48],[5.458,-4.96],[5.485,-5.39],
  [5.540,-3.69],[5.568,-4.30],[5.595,-4.60],[5.622,-4.96],[5.677,-2.96],[5.705,-3.39],[5.732,-3.75],[5.760,-4.18],[5.787,-4.54],
  [5.859,-2.96],[5.881,-3.39],[5.925,-3.81],[5.952,-4.24],[5.979,-4.42],[6.007,-4.84],[6.007,-2.78],[6.034,-3.21],[6.062,-3.63],
  [6.144,-2.05],[6.172,-2.60],[6.199,-2.90],[6.309,-4.78],[6.336,-5.15],[6.364,-5.45],[6.391,-5.75],[6.419,-5.57],[6.446,-5.99],
  [6.474,-4.72],[6.501,-5.02],[6.518,-5.27],[6.540,-5.45],[6.573,-4.60],[6.638,-3.51],[6.666,-3.81],[6.682,-4.12],[6.693,-4.48],
  [6.721,-4.96],[6.748,-5.33],[6.759,-5.63],[6.776,-5.93],[6.858,-3.75],[6.885,-4.24],
  [6.968,-3.15],[6.995,-3.51],[7.012,-3.87],[7.023,-4.24],[7.034,-4.60],[7.160,-2.72],[7.188,-3.15],
  [7.325,-3.87],[7.352,-4.24],[7.363,-4.66],[7.380,-5.02],[7.396,-5.33],[7.462,-3.27],[7.490,-3.63],[7.506,-3.99],[7.517,-4.36],
  [7.600,-4.72],[7.616,-5.08],[7.627,-5.45],[7.616,-5.93],[7.655,-3.63],[7.682,-3.99],
  [7.819,-3.87],[7.836,-4.24],[7.847,-4.60],[7.858,-4.96],[7.863,-5.45],[7.902,-3.21],[7.929,-3.63],
  [8.039,-2.90],[8.055,-3.27],[8.066,-3.63],[8.077,-3.99],[8.094,-4.36],[8.066,-5.08],
  [8.396,-2.90],[8.423,-3.27],[8.440,-3.75],[8.451,-4.48],[8.440,-4.90],[8.588,-2.66],[8.616,-3.15],[8.643,-3.51],[8.670,-3.87],[8.681,-4.24],
  [8.753,-3.27],[8.780,-3.63],[8.808,-3.93],[8.835,-4.24],[8.890,-2.90],[8.918,-3.27],[8.945,-3.63],[8.962,-3.99],[8.972,-4.48],[8.890,-4.96],
  [9.110,-2.78],[9.121,-3.21],[9.384,-3.27],[9.412,-3.63],[9.384,-4.12],
  [9.631,-3.27],[9.648,-3.75],[9.659,-4.18],[9.659,-4.72],[9.648,-5.21],[9.643,-5.63],[9.769,-3.02],[9.796,-3.51],
  [9.989,-2.78],[10.016,-3.15],[10.044,-3.51],[10.099,-3.87],[10.126,-4.24],[10.126,-4.60],[10.264,-2.96],[10.291,-3.27],
  [10.428,-2.90],[10.444,-3.39],[10.456,-3.75],[10.472,-4.18],
  [10.648,-3.15],[10.675,-3.63],[10.692,-3.99],[10.675,-4.48],[10.664,-4.96],[10.659,-5.51],[10.757,-3.57],[10.785,-3.93],
  [10.895,-3.51],[10.911,-3.93],[10.922,-4.30],[10.939,-4.66],[10.966,-5.02],
  [11.032,-3.51],[11.087,-3.27],[11.114,-3.87],[11.142,-4.30],[11.153,-4.72],[11.169,-5.15],[11.306,-2.90],
  [11.367,-2.24],[11.395,-3.15],[11.422,-3.87],[11.640,-2.90],[11.668,-3.27],[11.695,-3.63],[11.722,-3.81],[11.750,-4.24],
  [11.859,-2.78],[11.886,-3.27],[11.913,-3.75],[11.941,-4.48],[11.968,-4.18],[11.995,-3.93],
  [12.050,-3.08],[12.077,-3.51],[12.105,-3.63],[12.132,-3.81],[12.159,-4.05],[12.170,-3.63],[12.432,-3.08],[12.443,-3.51],[12.459,-3.93],
  [12.596,-2.84],[12.651,-3.27],[12.694,-3.63],[12.705,-4.05],[12.716,-4.48],[12.716,-4.84],[12.760,-3.57],[12.787,-3.99],[12.814,-4.12],
  [12.869,-3.08],[12.924,-3.02],[12.978,-2.90],[13.033,-3.27],
  [13.197,-3.63],[13.208,-4.05],[13.213,-4.48],[13.224,-4.84],[13.224,-5.27],[13.224,-5.69],[13.470,-3.15],[13.481,-3.63],[13.486,-4.05],[13.497,-4.48],
  [13.716,-3.27],[13.726,-3.63],[13.743,-3.99],[13.754,-4.42],[13.770,-4.84],[13.743,-5.51],[13.798,-5.08],[13.825,-5.33],
  [13.907,-2.78],[13.961,-3.02],[13.989,-3.27],[14.071,-3.75],[14.098,-4.12],[14.125,-4.48],[14.152,-3.39],[14.180,-3.02],
  [14.207,-3.87],[14.223,-4.30],[14.234,-4.72],[14.507,-3.15],[14.518,-3.51],[14.535,-3.93],
  [14.753,-3.27],[14.780,-3.87],[14.808,-4.24],[14.835,-4.60],[14.944,-3.51],[14.988,-3.81],[15.010,-4.24],[15.043,-4.72],
  [15.081,-4.42],[15.108,-4.84],[15.108,-5.21],[15.135,-3.08],[15.163,-3.39],[15.190,-3.87],[15.272,-3.75],[15.272,-4.12],[15.272,-4.48],
  [15.545,-3.15],[15.556,-3.51],[15.572,-3.87],[15.763,-3.27],[15.791,-3.63],[15.818,-3.81],[15.845,-3.99],[15.862,-4.18],
  [15.982,-2.90],[16.009,-3.02],[16.036,-3.08],[16.118,-3.15],[16.135,-3.51],[16.146,-3.99],[16.146,-4.60],
  [16.255,-3.75],[16.282,-4.05],[16.310,-4.42],[16.583,-3.02],[16.594,-3.33],
  [16.801,-3.39],[16.812,-3.75],[16.828,-4.12],[16.845,-4.48],[16.856,-4.72],[16.910,-3.63],[16.921,-4.24],[16.938,-5.08],
  [17.129,-3.45],[17.156,-3.81],[17.172,-4.24],[17.183,-4.60],[17.183,-5.21],[17.238,-3.27],[17.265,-3.75],[17.282,-4.12],[17.293,-4.60],
  [17.565,-3.27],[17.576,-3.63],[17.593,-3.99],[17.609,-4.42],[17.839,-3.51],[17.849,-3.93],[17.866,-4.42],
  [17.920,-2.78],[17.937,-3.27],[17.948,-3.63],[17.959,-4.12],[17.959,-4.90],[17.975,-5.33],
  [18.112,-2.96],[18.139,-3.27],[18.166,-3.63],[18.221,-3.87],[18.248,-3.51],[18.275,-3.27],[18.357,-3.81],[18.385,-3.51],
  [18.631,-3.63],[18.658,-4.18],[18.904,-3.15],[18.920,-3.63],[18.931,-3.99],[18.942,-4.36],[18.958,-4.72],[18.947,-5.21],
  [19.258,-3.51],[19.286,-3.81],[19.313,-4.36],[19.324,-4.84],[19.329,-5.57],[19.324,-5.99],
  [19.368,-3.51],[19.395,-3.87],[19.422,-4.30],[19.433,-4.66],[19.504,-2.66]
];
const epsAdcpAllLog = [
  [4.030,-1.45],[4.140,-1.51],[4.211,-1.51],[4.288,-2.24],[4.387,-2.36],[4.497,-2.18],[4.606,-1.33],[4.689,-1.75],[4.771,-1.57],[5.018,-1.33],
  [5.046,-1.21],[5.238,-1.69],[5.320,-2.54],[5.375,-2.42],[5.458,-2.05],[5.650,-1.27],[5.705,-1.15],[5.815,-1.45],[5.979,-1.45],[6.034,-1.33],
  [6.117,-0.96],[6.144,-1.39],[6.243,-0.90],[6.364,-1.33],[6.419,-1.08],[6.446,-1.69],[6.584,-2.60],[6.693,-1.21],[6.803,-1.87],[6.858,-1.93],
  [7.078,-1.08],[7.243,-1.69],[7.407,-2.05],[7.462,-1.51],[7.572,-1.57],[7.627,-2.66],[7.709,-1.75],[7.819,-1.69],[7.929,-1.63],[8.066,-1.21],
  [8.121,-1.08],[8.396,-0.90],[8.451,-1.33],[8.561,-1.75],[8.670,-1.69],[8.780,-1.57],[8.863,-1.93],[8.945,-1.81],[9.055,-2.05],[9.165,-1.21],
  [9.439,-1.57],[9.576,-1.63],[9.714,-1.15],[9.824,-1.21],[9.934,-1.08],[10.044,-1.45],[10.099,-1.81],[10.236,-0.90],[10.401,-0.84],[10.483,-1.08],
  [10.703,-1.45],[10.867,-1.81],[10.950,-0.78],[11.032,-0.84],[11.087,-1.57],[11.197,-1.33],[11.334,-1.57],
  [11.449,-1.81],[11.558,-1.63],[11.804,-1.63],[11.941,-1.81],[12.023,-1.75],[12.159,-2.24],[12.214,-2.18],[12.459,-0.90],[12.487,-2.42],[12.678,-1.99],
  [12.842,-1.81],[12.924,-1.75],[13.142,-2.05],[13.415,-1.33],[13.524,-0.78],[13.798,-0.84],[13.907,-1.51],[14.016,-1.57],[14.125,-2.36],[14.180,-0.84],
  [14.234,-1.45],[14.371,-1.81],[14.562,-1.08],[14.671,-1.57],[14.780,-0.84],[14.944,-1.75],[14.999,-1.93],[15.108,-1.21],[15.327,-1.33],[15.490,-1.57],
  [15.654,-1.21],[15.818,-0.72],[15.955,-2.24],[16.064,-0.90],[16.200,-1.63],[16.282,-1.21],[16.419,-0.96],[16.583,-0.96],[16.801,-1.57],[16.856,-0.96],
  [17.020,-1.57],[17.129,-1.45],[17.238,-1.33],[17.320,-0.84],[17.402,-1.08],[17.511,-1.69],[17.565,-1.15],[17.729,-1.45],[17.893,-1.08],[18.030,-1.69],
  [18.166,-1.87],[18.275,-0.84],[18.385,-1.57],[18.603,-1.15],[18.712,-1.69],[18.904,-1.33],[18.985,-1.63],[19.204,-1.57],[19.313,-1.81],[19.368,-0.90],
  [19.504,-1.57]
];
const epsAdvSelLog = [
  [3.480,-1.87],[3.508,-2.18],[3.535,-2.24],[3.563,-1.69],[3.755,-1.51],[3.783,-1.69],[3.810,-1.51],[3.783,-2.18],[3.739,-2.24],[3.838,-2.81],
  [4.486,-3.45],[4.497,-3.08],[4.524,-2.48],[4.552,-2.38],[4.771,-2.72],[4.799,-2.39],[4.826,-2.15],[4.853,-2.15],[5.101,-2.05],[5.128,-2.18],
  [5.622,-2.78],[5.859,-2.68],[5.897,-2.36],[6.144,-2.66],[7.105,-2.68],[7.133,-2.81],[7.160,-2.62],[7.188,-1.91],[7.215,-1.93],[7.243,-2.24],
  [8.138,-3.11],[8.149,-2.64],[8.187,-2.03],[8.220,-2.36],[8.242,-2.48],[8.259,-2.88],[8.286,-2.18],[8.478,-3.21],[8.972,-4.64],[9.165,-2.82],
  [9.165,-2.48],[9.220,-2.30],[9.275,-1.33],[9.302,-2.24],[9.318,-2.39],[9.494,-2.36],[9.522,-2.72],[9.538,-2.05],[9.560,-1.57],[10.209,-3.41],
  [10.197,-2.60],[10.236,-2.18],[10.264,-2.12],[10.291,-1.81],[10.318,-1.79],[10.483,-1.90],[10.510,-1.87],[10.472,-3.21],[10.593,-2.32],[10.565,-1.87],
  [11.224,-2.52],[11.224,-2.90],[11.252,-2.54],[11.279,-1.79],[11.296,-1.11],
  [11.367,-2.48],[11.449,-2.90],[11.504,-1.93],[11.548,-1.75],[11.586,-1.45],[11.624,-2.30],[11.722,-3.33],[11.821,-1.84],[12.203,-2.64],[12.257,-1.93],
  [12.296,-1.51],[12.323,-1.42],[12.350,-1.06],[12.378,-1.75],[12.405,-1.69],[12.514,-2.54],[12.498,-2.96],[12.569,-1.33],[12.607,-1.57],[12.623,-1.81],
  [12.667,-2.42],[12.858,-2.42],[13.251,-2.24],[13.279,-2.21],[13.262,-2.50],[13.333,-1.27],[13.361,-0.99],[13.404,-1.87],[13.442,-2.42],[13.552,-2.39],
  [13.606,-0.82],[13.634,-1.33],[13.661,-1.36],[13.688,-2.42],[14.289,-1.75],[14.316,-1.69],[14.398,-2.15],[14.453,-2.45],[14.573,-2.20],[14.606,-2.36],
  [14.644,-1.45],[14.671,-1.55],[14.715,-2.20],[14.917,-2.56],[15.327,-2.30],[15.354,-2.24],[15.392,-1.63],[15.408,-1.27],[15.463,-2.09],[15.518,-2.36],
  [15.627,-1.42],[15.654,-1.27],[15.665,-2.15],[15.736,-1.81],[15.763,-2.50],[16.337,-2.18],[16.364,-1.99],[16.446,-1.73],[16.473,-2.20],[16.501,-2.12],
  [16.610,-3.21],[16.664,-1.73],[16.692,-0.94],[16.719,-1.47],[16.774,-2.05],[16.992,-3.23],[17.101,-2.44],[17.374,-2.58],[17.413,-2.56],[17.445,-1.90],
  [17.500,-2.24],[17.538,-1.57],[17.647,-2.38],[17.675,-2.54],[17.702,-1.90],[17.729,-1.75],[17.784,-1.55],[17.811,-3.11],[18.439,-2.84],[18.467,-2.88],
  [18.483,-1.96],[18.505,-1.08],[18.538,-1.63],[18.576,-1.42],[18.603,-2.60],[18.723,-2.36],[18.756,-2.05],[18.778,-1.81],[18.833,-2.12],[19.040,-2.24],
  [19.095,-2.72],[19.122,-2.42],[19.193,-2.76]
];
const epsAdcpSelLog = [
  [3.480,-1.55],[3.508,-1.75],[3.563,-1.02],[3.728,-1.84],[3.755,-2.08],[3.783,-1.91],[3.810,-1.33],[3.838,-1.59],[4.535,-2.44],[4.552,-2.89],
  [4.799,-1.51],[4.815,-1.55],[4.837,-1.59],[4.881,-1.69],[5.128,-1.73],[5.859,-1.48],[5.897,-2.15],[6.144,-1.36],[7.105,-2.24],[7.133,-1.45],
  [7.160,-1.30],[7.243,-1.73],[8.149,-1.15],[8.204,-1.85],[8.220,-1.42],[8.275,-1.51],[8.286,-1.18],[9.165,-1.79],[9.192,-1.24],[9.231,-1.57],
  [9.286,-1.08],[9.302,-1.33],[9.494,-1.35],[9.522,-1.45],[9.538,-2.21],[9.560,-1.42],[10.197,-1.57],[10.209,-0.99],[10.236,-1.27],[10.264,-1.35],
  [10.291,-1.39],[10.456,-0.54],[10.527,-2.21],[10.549,-1.93],[10.565,-1.33],[10.593,-1.30],[11.252,-1.30],[11.279,-1.51],[11.306,-1.42],[11.334,-1.57],
  [11.367,-1.63],[11.477,-1.33],[11.504,-1.06],[11.548,-1.21],[11.586,-0.99],[11.602,-1.36],[11.711,-2.64],[11.449,-3.05],[11.804,-1.47],[12.214,-1.33],
  [12.241,-1.42],[12.268,-1.87],[12.312,-1.33],[12.334,-1.21],[12.350,-1.55],[12.389,-2.56],[12.541,-1.69],[12.569,-1.21],[12.596,-1.39],[12.651,-1.91],
  [12.651,-2.68],[12.858,-2.39],[13.240,-1.59],[13.262,-1.81],[13.279,-1.21],[13.306,-1.42],[13.333,-1.08],[13.371,-1.33],[13.442,-0.90],[13.568,-1.02],
  [13.552,-2.09],[13.590,-1.84],[13.623,-0.90],[13.661,-1.45],[13.688,-2.30],[14.289,-1.63],[14.333,-1.45],[14.354,-1.21],[14.371,-1.42],[14.589,-1.27],
  [14.617,-1.59],[14.644,-1.23],[14.682,-1.51],[14.917,-2.20],[15.354,-1.51],[15.381,-1.15],[15.425,-1.33],[15.501,-0.56],[15.654,-1.30],[15.682,-1.27],
  [15.709,-1.39],[15.736,-1.51],[15.752,-1.87],[16.337,-1.87],[16.391,-1.39],[16.419,-1.15],[16.446,-1.45],[16.473,-1.39],[16.664,-1.33],[16.692,-1.06],
  [16.719,-0.78],[16.746,-1.51],[16.774,-1.85],[16.992,-2.52],[17.085,-0.99],[17.391,-1.24],[17.429,-1.93],[17.456,-1.55],[17.483,-1.33],[17.511,-1.35],
  [17.647,-1.59],[17.718,-1.23],[17.757,-1.18],[17.811,-2.56],[18.412,-1.69],[18.467,-1.63],[18.521,-0.90],[18.549,-0.66],[18.603,-1.81],[18.740,-1.45],
  [18.778,-1.33],[18.811,-1.15],[18.833,-1.57],[19.040,-1.21],[19.084,-1.23],[19.106,-1.24],[19.176,-1.99],[19.204,-1.63]
];

// ---------- axes ----------
const yRange = [[0, 1.7], [0, 0.2], [0, 50], [-6, 0]];
const yTickValues = [[0, 1, 1.5], [0, 0.1, 0.2], [0, 25, 50], [-6, -3, -1]];
const yTickText = [['0', '1', '1.5'], ['0', '0.1', '0.2'], ['0', '25', '50'], ['\u22126', '\u22123', '\u22121']];

const BLUE = '#0000ff';
const RED = '#ff0000';
const FONT = '"Liberation Sans", Arial, Helvetica, sans-serif';

const PANEL_TOP = [70, 308.3, 546.7, 785];
const PANEL_HEIGHT = [165, 165.7, 164.3, 165.7];
const PLOT_LEFT = 182;
const PLOT_WIDTH = 1421.4;

const grid = [], xAxis = [], yAxis = [];
const frameLine = { show: true, onZero: false, lineStyle: { color: '#000', width: 2 } };
const tickStyle = { color: '#111', width: 1.4 };
for (let g = 0; g < 4; g++) {
  grid.push({ left: PLOT_LEFT, top: PANEL_TOP[g], width: PLOT_WIDTH, height: PANEL_HEIGHT[g], show: false });
  ['bottom', 'top'].forEach(pos => xAxis.push({
    gridIndex: g, type: 'value', min: 3, max: 20, position: pos,
    axisLine: frameLine,
    axisTick: { show: true, inside: true, length: 11, customValues: dayTicks, lineStyle: tickStyle },
    axisLabel: { show: false }, splitLine: { show: false }
  }));
  ['left', 'right'].forEach(pos => yAxis.push({
    gridIndex: g, type: 'value', min: yRange[g][0], max: yRange[g][1], position: pos,
    axisLine: frameLine,
    axisTick: { show: true, inside: true, length: 14, customValues: yTickValues[g], lineStyle: tickStyle },
    axisLabel: { show: false }, splitLine: { show: false }
  }));
}

const withGaps = arr => arr.map(p => (p === null ? [null, null] : p));
const lineSeries = (name, axis, data, color, width, z) => ({
  name, type: 'line', xAxisIndex: axis, yAxisIndex: axis, data,
  showSymbol: false, symbol: 'none', connectNulls: false, clip: true,
  lineStyle: { color, width, join: 'round' }, itemStyle: { color }, z, silent: true
});
const dotSeries = (name, axis, data, color, size, z) => ({
  name, type: 'scatter', xAxisIndex: axis, yAxisIndex: axis, data,
  symbol: 'circle', symbolSize: size, clip: true,
  itemStyle: { color, borderWidth: 0, opacity: 1 }, z, silent: true
});

const SMALL = [2.6, 2.2];
const BIG = [7.6, 6.2];

const series = [
  lineSeries('ADV', 0, speedDay.map((d, i) => [d, speedAdv[i]]), BLUE, 2.7, 2),
  lineSeries('ADCP', 0, speedDay.map((d, i) => [d, speedAdcp[i]]), RED, 2.7, 3),

  lineSeries('ADV sigma', 2, sigmaAdv, BLUE, 2.5, 2),
  lineSeries('ADCP sigma', 2, withGaps(sigmaAdcp), RED, 2.5, 3),
  dotSeries('ADCP sigma isolated', 2, sigmaAdcpIsolated, RED, [3, 3], 3),

  dotSeries('ADV Ic', 4, icAdvAll, BLUE, SMALL, 2),
  dotSeries('ADCP Ic', 4, icAdcpAll, RED, SMALL, 2),
  dotSeries('ADV Ic selected', 4, icAdvSel, BLUE, BIG, 3),
  dotSeries('ADCP Ic selected', 4, icAdcpSel, RED, BIG, 4),

  dotSeries('ADV eps', 6, epsAdvAllLog, BLUE, SMALL, 2),
  dotSeries('ADCP eps', 6, epsAdcpAllLog, RED, SMALL, 2),
  dotSeries('ADV eps selected', 6, epsAdvSelLog, BLUE, BIG, 3),
  dotSeries('ADCP eps selected', 6, epsAdcpSelLog, RED, BIG, 4)
];

const chart = echarts.init(document.getElementById('chart'), null, { renderer: 'canvas', width: 1596, height: 996 });
chart.setOption({ animation: false, backgroundColor: '#fff', grid, xAxis, yAxis, series });

// ---------- text: tick labels, axis titles, legend ----------
function txt(x, y, text, font, align, opts) {
  return Object.assign({
    type: 'text', x, y, z: 50, silent: true,
    style: { text, font, fill: '#000', textAlign: align, textVerticalAlign: 'middle', align, verticalAlign: 'middle' }
  }, opts || {});
}
function rotTxt(x, y, text, font, sx, sy) {
  return txt(x, y, text, font, 'center', { rotation: Math.PI / 2, scaleX: sx, scaleY: sy });
}

const elements = [];
for (let g = 0; g < 4; g++) {
  const finder = { xAxisIndex: 2 * g, yAxisIndex: 2 * g };
  dayTicks.forEach((d, i) => {
    const p = chart.convertToPixel(finder, [d, yRange[g][0]]);
    elements.push(txt(p[0], p[1] + 30.5, dayTickText[i], 'bold 37px ' + FONT, 'center', { scaleX: 1.19 }));
  });
  yTickValues[g].forEach((v, i) => {
    const p = chart.convertToPixel(finder, [3, v]);
    if (g < 3) {
      elements.push(txt(p[0] - 11, p[1], yTickText[g][i], 'bold 30px ' + FONT, 'right', { scaleX: 1.4 }));
    } else {
      elements.push({
        type: 'text', x: p[0] - 11, y: p[1], z: 50, silent: true, scaleX: 1.3,
        style: {
          text: '{b|10}{s|' + yTickText[g][i] + '}', fill: '#000',
          textAlign: 'right', textVerticalAlign: 'middle', align: 'right', verticalAlign: 'middle',
          rich: {
            b: { fontSize: 31, fontWeight: 'bold', fontFamily: FONT, lineHeight: 44, fill: '#000' },
            s: { fontSize: 21, fontWeight: 'bold', fontFamily: FONT, lineHeight: 12, verticalAlign: 'top', fill: '#000' }
          }
        }
      });
    }
  });
}

// axis titles (rotated, reading upwards)
elements.push(rotTxt(72, 153, '<v> [m/s]', 'bold 35px ' + FONT, 1, 1.22));

elements.push(rotTxt(49, 452, '\u03c3', '38px ' + FONT, 1.4, 0.95));
elements.push(rotTxt(75, 420, 'v,c', 'bold 29px ' + FONT, 1, 1.2));
elements.push(rotTxt(49, 358.5, '[m/s]', 'bold 35px ' + FONT, 1, 1.2));

elements.push(rotTxt(61, 661, 'I', 'bold 37px ' + FONT, 1.6, 1.2));
elements.push(rotTxt(91, 651.5, 'c', 'bold 26px ' + FONT, 1, 1.2));
elements.push(rotTxt(61, 614, '[%]', 'bold 37px ' + FONT, 1, 1.2));

elements.push(rotTxt(45, 928, '\u03b5', '38px ' + FONT, 1, 1.05));
elements.push(rotTxt(46, 861.5, '[W/m', 'bold 40px ' + FONT, 1, 1.12));
elements.push(rotTxt(28, 812, '3', 'bold 21px ' + FONT, 1, 1.12));
elements.push(rotTxt(46, 801, ']', 'bold 40px ' + FONT, 1, 1.12));

// legend box
elements.push({ type: 'rect', z: 100, silent: true, shape: { x: 316.8, y: 8.3, width: 261.4, height: 100 }, style: { fill: '#fff', stroke: '#000', lineWidth: 2 } });
elements.push({ type: 'line', z: 101, silent: true, shape: { x1: 336.4, y1: 35.5, x2: 432.9, y2: 35.5 }, style: { stroke: BLUE, lineWidth: 2.8 } });
elements.push({ type: 'line', z: 101, silent: true, shape: { x1: 336.4, y1: 80, x2: 432.9, y2: 80 }, style: { stroke: RED, lineWidth: 2.8 } });
elements.push(txt(443, 37.5, 'ADV', 'bold 35px ' + FONT, 'left', { scaleX: 1.27, z: 102 }));
elements.push(txt(443, 82.5, 'ADCP', 'bold 35px ' + FONT, 'left', { scaleX: 1.27, z: 102 }));

chart.setOption({ graphic: { elements } });
</script>
</body>
</html>
